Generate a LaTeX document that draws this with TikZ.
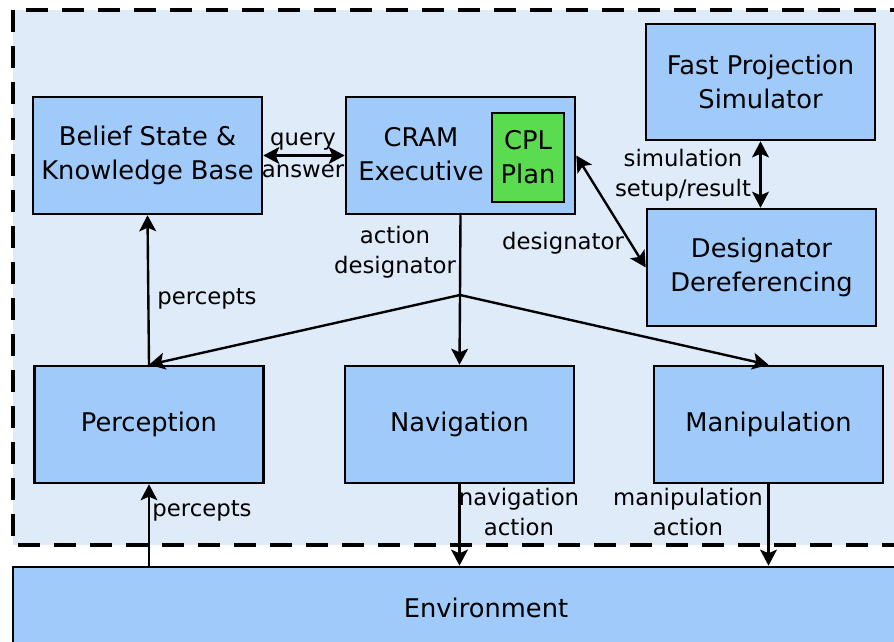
\documentclass[tikz,border=0pt]{standalone}
\usepackage{fontspec}
\setmainfont{DejaVu Sans}
\usetikzlibrary{arrows.meta,positioning}
\definecolor{FondoAzul}{HTML}{DFEBF9}
\definecolor{CajaAzul}{HTML}{A0CAF9}
\definecolor{PlanVerde}{HTML}{5BDB4F}
\tikzset{
  caja/.style     = {draw, line width=1.9pt, fill=CajaAzul, align=center,
                     font=\fontsize{18.3}{24}\selectfont,
                     minimum width=5.72cm, minimum height=2.92cm, inner sep=0pt},
  plan/.style     = {draw, line width=1.9pt, fill=PlanVerde, align=center,
                     font=\fontsize{18.3}{24}\selectfont,
                     minimum width=1.8cm, minimum height=2.22cm, inner sep=0pt},
  texto/.style    = {align=center, font=\fontsize{18.3}{24}\selectfont, inner sep=0pt},
  punta/.tip      = {Stealth[length=4mm,width=4.2mm,inset=0.9mm]},
  flecha/.style   = {-punta, line width=1.7pt},
  dflecha/.style  = {punta-punta, line width=1.7pt},
  linea/.style    = {line width=1.7pt},
  lbl/.style      = {align=center, font=\fontsize{16.2}{21.3}\selectfont, inner sep=0pt},
}
\begin{document}
\begin{tikzpicture}[x=0.025cm,y=-0.025cm]
  \clip (0,0) rectangle (894,642);
  % zona del sistema
  \draw[fill=FondoAzul, line width=2.3pt, dash pattern=on 0.55cm off 0.35cm] (13,10) rectangle (990,545);
  \node[caja] (BS) at (147.5,155.5) {Belief State \&\\Knowledge Base};
  \node[caja] (CE) at (460.5,155.5) {};
  \node[texto] (CEt) at (421,154) {CRAM\\Executive};
  \node[plan] (CPL) at (528,157.5) {CPL\\Plan};
  \node[caja, minimum height=2.9cm] (FP) at (760.5,82) {Fast Projection\\Simulator};
  \node[caja] (DD) at (761.5,267.5) {Designator\\Dereferencing};
  \node[caja] (PE) at (149,424.5) {Perception};
  \node[caja] (NA) at (459.5,424.5) {Navigation};
  \node[caja] (MA) at (768.5,424.5) {Manipulation};
  \node[caja, minimum width=23.65cm, minimum height=2.05cm] (EN) at (486,608) {Environment};
  \coordinate (J) at (460,295);

  \draw[dflecha] (BS.east) -- (CE.west);
  \node[lbl] at (303,141) {query};
  \node[lbl] at (303,171) {answer};
  \draw[dflecha] (CE.east) -- (DD.west);
  \node[lbl] at (563,243) {designator};
  \draw[dflecha] (FP.south) -- (FP.south |- DD.north);
  \node[lbl] at (683,175) {simulation\\setup/result};
  \draw[linea] (CE.south) -- (J);
  \draw[flecha] (J) -- (PE.north);
  \draw[flecha] (J) -- (NA.north);
  \draw[flecha] (J) -- (MA.north);
  \node[lbl] at (395,252) {action\\designator};
  \draw[flecha] (PE.north) -- (BS.south);
  \node[lbl] at (207,299) {percepts};
  \draw[flecha] (PE.south |- EN.north) -- (PE.south);
  \node[lbl] at (202,511) {percepts};
  \draw[flecha] (NA.south) -- (NA.south |- EN.north);
  \node[lbl] at (519,512) {navigation\\action};
  \draw[flecha] (MA.south) -- (MA.south |- EN.north);
  \node[lbl] at (688,512) {manipulation\\action};
\end{tikzpicture}
\end{document}
